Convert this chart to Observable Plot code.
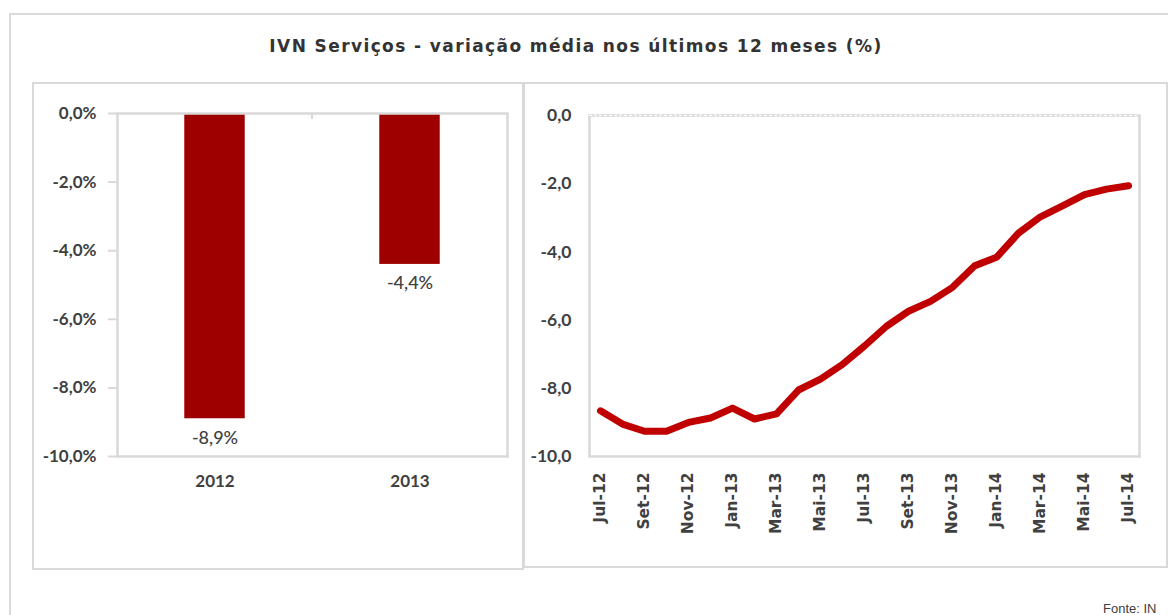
<!DOCTYPE html>
<html><head><meta charset="utf-8">
<script src="https://cdn.jsdelivr.net/npm/d3@7"></script>
<script src="https://cdn.jsdelivr.net/npm/@observablehq/plot@0.6"></script>
<style>
html,body{margin:0;padding:0;background:#fff;width:1168px;height:615px;overflow:hidden;}
body{position:relative;}
.box{position:absolute;border:2px solid #d9d9d9;box-sizing:border-box;}
.chart{position:absolute;top:0;}
.chart svg{overflow:visible;background:transparent;}
#title{position:absolute;left:0;width:1152px;top:35px;text-align:center;font:bold 17px "DejaVu Sans";color:#333;letter-spacing:1.4px;line-height:22px;}
#source{position:absolute;left:1103px;top:602px;font:13px "Liberation Sans";color:#404040;white-space:nowrap;line-height:13px;}
</style></head>
<body>
<div class="box" style="left:9px;top:13px;width:1200px;height:700px;"></div>
<div class="box" style="left:32px;top:82px;width:492px;height:488px;"></div>
<div class="box" style="left:523px;top:82px;width:645px;height:486px;"></div>
<div id="title">IVN Serviços - variação média nos últimos 12 meses (%)</div>
<div class="chart" id="left" style="left:0px;"></div>
<div class="chart" id="right" style="left:524px;"></div>
<div id="source">Fonte: IN</div>
<script>
const years = ["2012", "2013"];
const yearValues = [-8.9, -4.4];
const months = ["Jul-12","Ago-12","Set-12","Out-12","Nov-12","Dez-12","Jan-13","Fev-13","Mar-13","Abr-13","Mai-13","Jun-13","Jul-13","Ago-13","Set-13","Out-13","Nov-13","Dez-13","Jan-14","Fev-14","Mar-14","Abr-14","Mai-14","Jun-14","Jul-14"];
const ivnValues = [-8.66,-9.05,-9.26,-9.26,-9.0,-8.87,-8.58,-8.9,-8.75,-8.05,-7.73,-7.3,-6.76,-6.18,-5.74,-5.45,-5.04,-4.41,-4.16,-3.45,-2.97,-2.65,-2.32,-2.16,-2.06];
const yTicks = [0, -2, -4, -6, -8, -10];
const monthTicks = months.filter((d, i) => i % 2 === 0);

const fmt = d => d.toFixed(1).replace(".", ",");
const bars = years.map((y, i) => ({year: y, value: yearValues[i]}));
const series = months.map((m, i) => ({month: m, value: ivnValues[i]}));

const axisFont = {fontFamily: "Lato", fontSize: 17, fontWeight: "bold", fill: "#404040"};

// small category separator tick at the top of the bar chart (Excel style)
function separatorTick(index, scales, values, dimensions) {
  const x = scales.x;
  const step = x(years[1]) - x(years[0]);
  const mid = dimensions.marginLeft + step;
  const g = d3.create("svg:line")
    .attr("x1", mid).attr("x2", mid)
    .attr("y1", dimensions.marginTop).attr("y2", dimensions.marginTop + 6)
    .attr("stroke", "#d9d9d9").attr("stroke-width", 2);
  return g.node();
}

const left = Plot.plot({
  width: 522, height: 570,
  marginLeft: 117, marginRight: 15, marginTop: 113, marginBottom: 114,
  style: {background: "transparent", overflow: "visible", fontFamily: "Lato", fontWeight: "bold", color: "#404040"},
  x: {domain: years, paddingInner: 0.69, paddingOuter: 0.345, round: false, label: null},
  y: {domain: [-10, 0], label: null},
  marks: [
    Plot.barY(bars, {x: "year", y: "value", fill: "#9e0000"}),
    Plot.frame({stroke: "#d9d9d9", strokeWidth: 2.5}),
    separatorTick,
    Plot.axisY({ticks: yTicks, tickFormat: d => fmt(d) + "%", tickSize: 9, tickPadding: 12, stroke: "#d9d9d9", strokeWidth: 2, ...axisFont}),
    Plot.axisX({tickSize: 0, tickPadding: 18, ...axisFont}),
    Plot.text(bars, {x: "year", y: "value", text: d => fmt(d.value) + "%", dy: 19, fontFamily: "Lato", fontSize: 18, fontWeight: 500, fill: "#404040"})
  ]
});
document.getElementById("left").appendChild(left);

const right = Plot.plot({
  width: 644, height: 570,
  marginLeft: 65, marginRight: 29, marginTop: 115, marginBottom: 114,
  style: {background: "transparent", overflow: "visible", fontFamily: "Lato", fontWeight: "bold", color: "#404040"},
  x: {type: "point", domain: months, padding: 0.5, label: null},
  y: {domain: [-10, 0], label: null},
  marks: [
    Plot.frame({stroke: "#d9d9d9", strokeWidth: 2.5}),
    Plot.ruleY([0], {stroke: "#fff", strokeDasharray: "3,2", strokeWidth: 1}),
    Plot.axisY({ticks: yTicks, tickFormat: fmt, tickSize: 0, tickPadding: 18, ...axisFont, fontSize: 17.5}),
    Plot.axisX({ticks: monthTicks, tickRotate: -90, tickSize: 0, tickPadding: 16, fontFamily: "DejaVu Sans", fontSize: 15.5, fontWeight: "bold", fill: "#404040"}),
    Plot.line(series, {x: "month", y: "value", stroke: "#c00000", strokeWidth: 7, strokeLinejoin: "round", strokeLinecap: "round"})
  ]
});
document.getElementById("right").appendChild(right);
</script>
</body></html>
